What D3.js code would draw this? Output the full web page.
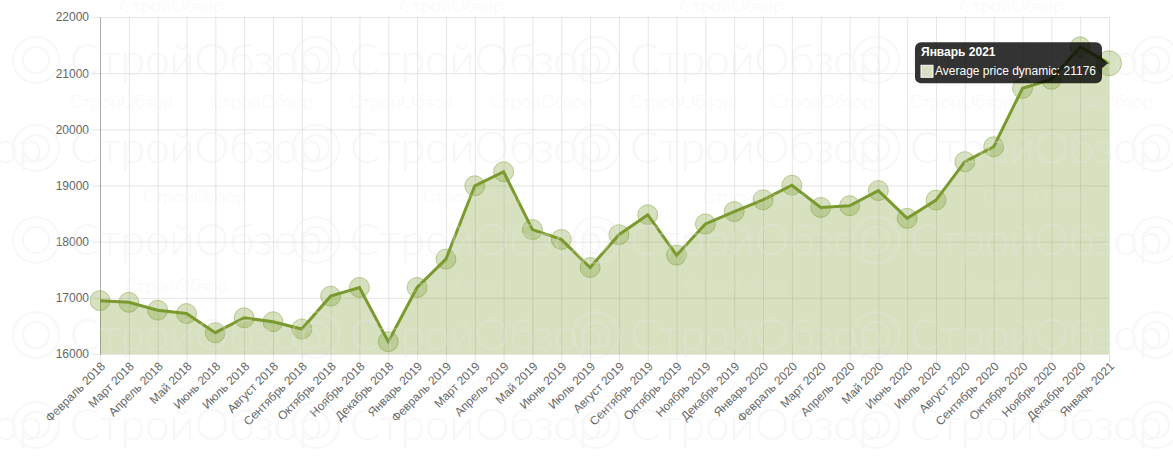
<!DOCTYPE html>
<html>
<head>
<meta charset="utf-8">
<script src="https://cdn.jsdelivr.net/npm/d3@7"></script>
<style>
    html, body { margin: 0; padding: 0; background: #fff; }
    svg { display: block; font-family: "Liberation Sans", Arial, sans-serif; }
</style>
</head>
<body>
<div id="chart"></div>
<script>
// Monthly categories (x axis)
const months = [
    "Февраль 2018", "Март 2018", "Апрель 2018", "Май 2018", "Июнь 2018", "Июль 2018",
    "Август 2018", "Сентябрь 2018", "Октябрь 2018", "Ноябрь 2018", "Декабрь 2018",
    "Январь 2019", "Февраль 2019", "Март 2019", "Апрель 2019", "Май 2019", "Июнь 2019",
    "Июль 2019", "Август 2019", "Сентябрь 2019", "Октябрь 2019", "Ноябрь 2019",
    "Декабрь 2019", "Январь 2020", "Февраль 2020", "Март 2020", "Апрель 2020",
    "Май 2020", "Июнь 2020", "Июль 2020", "Август 2020", "Сентябрь 2020",
    "Октябрь 2020", "Ноябрь 2020", "Декабрь 2020", "Январь 2021"
];

// Average price per month
const prices = [
    16950, 16920, 16780, 16720, 16380, 16645, 16575, 16445, 17030, 17185, 16220,
    17185, 17690, 18995, 19245, 18215, 18040, 17540, 18125, 18480, 17760, 18315,
    18535, 18745, 19005, 18610, 18640, 18910, 18415, 18740, 19425, 19690, 20730,
    20890, 21470, 21176
];

const yTicks = [16000, 17000, 18000, 19000, 20000, 21000, 22000];
const seriesName = "Average price dynamic";
const hoverIndex = 35; // tooltip is shown for the last month

const W = 1173, H = 461;
const plot = { left: 100, right: 1109, top: 17, bottom: 354 };

const svg = d3.select("#chart").append("svg")
    .attr("width", W)
    .attr("height", H);

const x = d3.scalePoint()
    .domain(months)
    .range([plot.left, plot.right]);

const y = d3.scaleLinear()
    .domain([16000, 22000])
    .range([plot.bottom, plot.top]);

const gridColor = "rgba(0,0,0,0.1)";
const labelColor = "#666";

// Vertical grid lines (extend 8px below axis as tick marks)
svg.append("g")
    .attr("transform", `translate(0,${plot.bottom + 8})`)
    .call(d3.axisBottom(x).tickSize(-(plot.bottom + 8 - plot.top)).tickFormat(""))
    .call(g => g.select(".domain").remove())
    .call(g => g.selectAll("line").attr("stroke", gridColor));

// Horizontal grid lines (extend 8px left of axis)
svg.append("g")
    .attr("transform", `translate(${plot.left - 8},0)`)
    .call(d3.axisLeft(y).tickValues(yTicks).tickSize(-(plot.right - plot.left + 8)).tickFormat(""))
    .call(g => g.select(".domain").remove())
    .call(g => g.selectAll("line").attr("stroke", gridColor));

// Y axis line + labels
svg.append("g")
    .attr("transform", `translate(${plot.left},0)`)
    .call(d3.axisLeft(y).tickValues(yTicks).tickSize(0).tickPadding(11).tickFormat(d3.format("d")))
    .call(g => g.select(".domain").attr("stroke", "rgba(0,0,0,0.25)"))
    .call(g => g.selectAll("text")
        .attr("fill", labelColor)
        .attr("font-size", 12)
        .attr("font-family", "Liberation Sans, Arial, sans-serif"));

// X labels, rotated 45°
svg.append("g")
    .selectAll("text")
    .data(months)
    .join("text")
    .attr("transform", d => `translate(${x(d) + 3},${plot.bottom + 10}) rotate(-45)`)
    .attr("text-anchor", "end")
    .attr("dy", "0.35em")
    .attr("fill", labelColor)
    .attr("font-size", 12)
    .text(d => d);

// Series
const lineColor = "rgb(122,154,46)";
const fillColor = "rgba(122,156,47,0.3)";

const area = d3.area()
    .x((d, i) => x(months[i]))
    .y0(plot.bottom)
    .y1(d => y(d));

const line = d3.line()
    .x((d, i) => x(months[i]))
    .y(d => y(d));

svg.append("path")
    .datum(prices)
    .attr("d", area)
    .attr("fill", fillColor);

svg.append("path")
    .datum(prices)
    .attr("d", line)
    .attr("fill", "none")
    .attr("stroke", lineColor)
    .attr("stroke-width", 3)
    .attr("stroke-linejoin", "miter");

svg.append("g")
    .selectAll("circle")
    .data(prices)
    .join("circle")
    .attr("cx", (d, i) => x(months[i]))
    .attr("cy", d => y(d))
    .attr("r", (d, i) => i === hoverIndex ? 12.5 : 10)
    .attr("fill", fillColor)
    .attr("stroke", "rgba(122,154,46,0.45)")
    .attr("stroke-width", 1);

// Watermark overlay (faint, tiled)
const wmColor = "rgb(232,232,232)";
const wm = svg.append("g")
    .attr("fill", wmColor)
    .attr("opacity", 0.3)
    .style("pointer-events", "none");

const bigRows = [[75, 70], [163, -210], [255, 70], [350, 70], [440, -210]];
bigRows.forEach(([by, off]) => {
    for (let bx = off; bx < W + 280; bx += 280) {
        wm.append("circle").attr("cx", bx - 34).attr("cy", by - 15).attr("r", 23)
            .attr("fill", "none").attr("stroke", wmColor).attr("stroke-width", 2);
        wm.append("circle").attr("cx", bx - 34).attr("cy", by - 15).attr("r", 13)
            .attr("fill", "none").attr("stroke", wmColor).attr("stroke-width", 2);
        wm.append("text").attr("x", bx).attr("y", by)
            .attr("font-family", "Lato, 'Open Sans', sans-serif")
            .attr("font-weight", 300)
            .attr("font-size", 44)
            .text("СтройОбзор");
    }
});

const smallRows = [[12, 120, 280], [108, 70, 140], [203, 143, 280], [292, 125, 280], [390, 145, 280]];
smallRows.forEach(([sy, off, step]) => {
    for (let sx = off; sx < W; sx += step) {
        wm.append("text").attr("x", sx).attr("y", sy)
            .attr("font-family", "Lato, 'Open Sans', sans-serif")
            .attr("font-weight", 300)
            .attr("font-size", 18)
            .text("СтройОбзор");
    }
});

// Tooltip for the hovered point
const px = x(months[hoverIndex]), py = y(prices[hoverIndex]);
const tip = svg.append("g");
const tipW = 187, tipH = 41;
const tipX = px - 7 - tipW, tipY = py - 21;

tip.append("rect")
    .attr("x", tipX).attr("y", tipY)
    .attr("width", tipW).attr("height", tipH)
    .attr("rx", 6)
    .attr("fill", "rgba(0,0,0,0.8)");

tip.append("path")
    .attr("d", `M${tipX + tipW},${py - 5}L${px - 1},${py}L${tipX + tipW},${py + 5}Z`)
    .attr("fill", "rgba(0,0,0,0.8)");

tip.append("text")
    .attr("x", tipX + 6).attr("y", tipY + 14)
    .attr("fill", "#fff")
    .attr("font-size", 12)
    .attr("font-weight", "bold")
    .text(months[hoverIndex]);

tip.append("rect")
    .attr("x", tipX + 6).attr("y", tipY + 23)
    .attr("width", 12).attr("height", 12)
    .attr("fill", "rgb(215,225,193)")
    .attr("stroke", "#fff")
    .attr("stroke-width", 1);

tip.append("text")
    .attr("x", tipX + 20).attr("y", tipY + 33)
    .attr("fill", "#fff")
    .attr("font-size", 12)
    .text(`${seriesName}: ${prices[hoverIndex]}`);
</script>
</body>
</html>
